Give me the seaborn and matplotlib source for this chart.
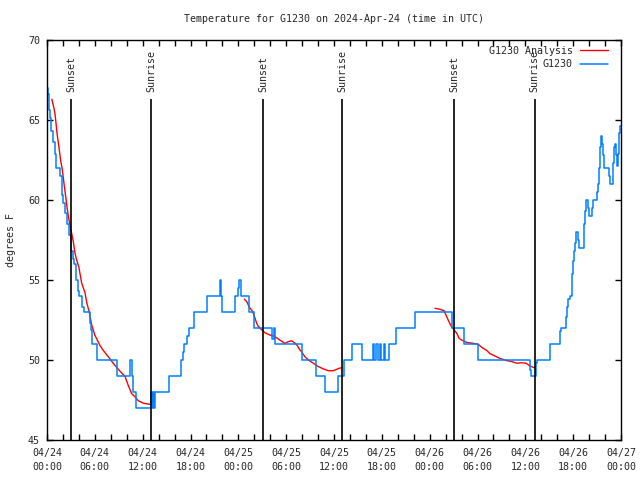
import pandas as pd
import numpy as np
import matplotlib
matplotlib.use("Agg")
import matplotlib.pyplot as plt
import matplotlib.dates as mdates
import seaborn as sns

# hours since 2024-04-24 00:00 UTC
blue_hours = [0.05, 0.15, 0.3, 0.4, 0.55, 0.7, 0.95, 1.1, 1.65, 1.85, 2.05, 2.3, 2.5, 2.75,
              3.05, 3.3, 3.42, 3.68, 3.85, 4.05, 4.43, 4.68, 5.36, 5.48, 5.6, 6.31, 8.74,
              10.41, 10.62, 10.83, 11.13, 13.1, 13.2, 13.35, 13.45, 13.6, 15.35, 16.8, 17.0,
              17.15, 17.5, 17.8, 18.5, 20.07, 21.65, 21.8, 21.95, 23.6, 23.9, 24.1, 24.3,
              25.35, 25.95, 28.22, 28.45, 28.65, 32.0, 33.8, 34.85, 36.5, 37.2, 38.3, 39.5,
              40.85, 41.0, 41.3, 41.5, 41.75, 41.9, 42.25, 42.45, 42.9, 43.8, 46.1, 50.85,
              52.3, 54.1, 60.55, 60.75, 61.3, 61.45, 63.05, 64.3, 64.45, 65.05, 65.2, 65.35,
              65.55, 65.85, 65.95, 66.1, 66.2, 66.35, 66.55, 66.7, 67.35, 67.5, 67.65, 67.85,
              68.0, 68.35, 68.45, 69.0, 69.15, 69.3, 69.4, 69.5, 69.6, 69.72, 69.85, 70.45,
              70.6, 71.05, 71.12, 71.22, 71.38, 71.55, 71.65, 71.8, 71.9, 72.0]
blue_temps = [67, 66.6, 65.6, 65.1, 64.3, 63.6, 62.9, 62, 61.5, 60.3, 59.8, 59.2, 58.5, 57.8,
              56.8, 56.3, 56, 55, 54.3, 54, 53.3, 53, 52.3, 51.9, 51, 50, 49,
              50, 49, 48, 47, 48, 47, 48, 47, 48, 49, 50, 50.5,
              51, 51.5, 52, 53, 54, 55, 54, 53, 54, 54.5, 55, 54,
              53, 52, 51.3, 52, 51, 50, 49, 48, 49, 50, 51, 50,
              51, 50, 51, 50, 51, 50, 51, 50, 51, 52, 53, 52,
              51, 50, 49.4, 49, 49.8, 50, 51, 51.8, 52, 52.7, 53.3, 53.8,
              54, 55.4, 56.2, 56.8, 57.3, 58, 57.5, 57, 58.5, 59.3, 60, 59.5,
              59, 59.5, 60, 60.5, 61, 62, 63.3, 64, 63.5, 62.8, 62, 61.5,
              61, 62.3, 63.3, 63.5, 62.8, 62.1, 62.9, 64.2, 64.6, 64.6]

red1_hours = [0.6, 0.8, 1.0, 1.13, 1.25, 1.5, 1.7, 1.92, 2.14, 2.35, 2.55, 2.76, 2.97, 3.1,
              3.3, 3.5, 3.72, 4.0, 4.35, 4.77, 4.98, 5.3, 5.6, 6.0, 6.65, 7.06, 7.7, 8.3,
              9.16, 9.8, 10.2, 10.62, 11.04, 11.46, 12.1, 12.92]
red1_temps = [66.3, 65.9, 65.4, 64.8, 64.2, 63.3, 62.5, 61.9, 61.0, 60.2, 59.4, 58.75, 58.2, 57.9,
              57.4, 56.7, 56.25, 55.8, 54.8, 54.2, 53.6, 53.0, 52.2, 51.56, 50.9, 50.6, 50.2, 49.8,
              49.3, 48.96, 48.4, 47.9, 47.7, 47.45, 47.3, 47.23]
red2_hours = [24.75, 25.05, 25.38, 25.7, 25.9, 26.1, 26.3, 26.5, 26.9, 27.35, 27.97, 28.6, 29.2,
              29.85, 30.27, 30.7, 31.1, 31.4, 31.7, 31.95, 32.36, 32.8, 33.4, 34.0, 34.66, 35.3,
              35.9, 36.34, 36.75, 37.05]
red2_temps = [53.8, 53.65, 53.3, 53.1, 52.9, 52.6, 52.3, 52.1, 51.9, 51.7, 51.56, 51.46, 51.25,
              51.04, 51.15, 51.2, 51.05, 50.9, 50.65, 50.5, 50.2, 50.0, 49.8, 49.6, 49.44, 49.33,
              49.33, 49.42, 49.5, 49.52]
red3_hours = [48.67, 49.3, 49.8, 50.1, 50.46, 50.77, 51.05, 51.4, 51.7, 52.0, 52.65, 53.48, 54.1,
              54.5, 55.15, 55.57, 56.2, 56.8, 57.67, 58.3, 58.9, 59.55, 60.1, 60.5, 61.0, 61.2]
red3_temps = [53.23, 53.17, 53.08, 52.75, 52.35, 52.05, 51.9, 51.67, 51.35, 51.25, 51.1, 51.04, 50.98,
              50.8, 50.6, 50.4, 50.25, 50.1, 49.96, 49.9, 49.8, 49.83, 49.8, 49.65, 49.54, 49.52]

event_hours = [3.05, 13.08, 27.1, 37.05, 51.1, 61.15]
event_labels = ["Sunset", "Sunrise", "Sunset", "Sunrise", "Sunset", "Sunrise"]

start = pd.Timestamp("2024-04-24 00:00")


def to_time(hours):
    return start + pd.to_timedelta(np.array(hours), unit="h")


sns.set_style("ticks")
plt.rcParams["font.family"] = ["DejaVu Sans Mono"]
plt.rcParams["font.size"] = 7.2

fig = plt.figure(figsize=(6.4, 4.8), dpi=100)
ax = fig.add_axes([47 / 640, 40 / 480, 574 / 640, 400 / 480])

red_segments = [(red1_hours, red1_temps), (red2_hours, red2_temps), (red3_hours, red3_temps)]
for i, (h, t) in enumerate(red_segments):
    sns.lineplot(x=to_time(h), y=t, color="#ff0000", lw=1, estimator=None, ax=ax,
                 label="G1230 Analysis" if i == 0 else None)

sns.lineplot(x=to_time(blue_hours), y=blue_temps, color="#0080ff", lw=1.1, estimator=None,
             drawstyle="steps-post", ax=ax, label="G1230")

for h, lab in zip(event_hours, event_labels):
    t = to_time([h])[0]
    ax.vlines(t, 45, 66.3, color="black", lw=1.2)
    ax.text(t, 66.75, lab, rotation=90, ha="center", va="bottom", fontsize=7.2)

ax.set_xlim(start, start + pd.Timedelta(hours=72))
ax.set_ylim(45, 70)
ax.set_yticks([45, 50, 55, 60, 65, 70])
ax.xaxis.set_major_locator(mdates.HourLocator(byhour=[0, 6, 12, 18]))
ax.xaxis.set_minor_locator(mdates.HourLocator(byhour=range(0, 24, 2)))
ax.xaxis.set_major_formatter(mdates.DateFormatter("%m/%d\n%H:%M"))
ax.tick_params(axis="both", which="both", direction="in", top=True, right=True,
               length=4, width=1, labelsize=7.2, color="black")
ax.tick_params(axis="x", which="major", pad=6)
ax.tick_params(axis="y", which="major", pad=5)
for lbl in ax.get_xticklabels():
    lbl.set_linespacing(1.4)
for s in ax.spines.values():
    s.set_color("black")
    s.set_linewidth(1)

ax.set_xlabel("")
ax.set_ylabel("degrees F", fontsize=7.2, labelpad=9)
ax.set_title("Temperature for G1230 on 2024-Apr-24 (time in UTC)", fontsize=7.2, pad=13)

handles, labels = ax.get_legend_handles_labels()
ax.legend(handles, labels, loc="upper right", bbox_to_anchor=(0.984, 0.995), frameon=False,
          markerfirst=False, handlelength=2.8, handletextpad=0.7, labelspacing=0.35,
          borderaxespad=0, fontsize=7.2)

fig.savefig("out.png", dpi=100)
